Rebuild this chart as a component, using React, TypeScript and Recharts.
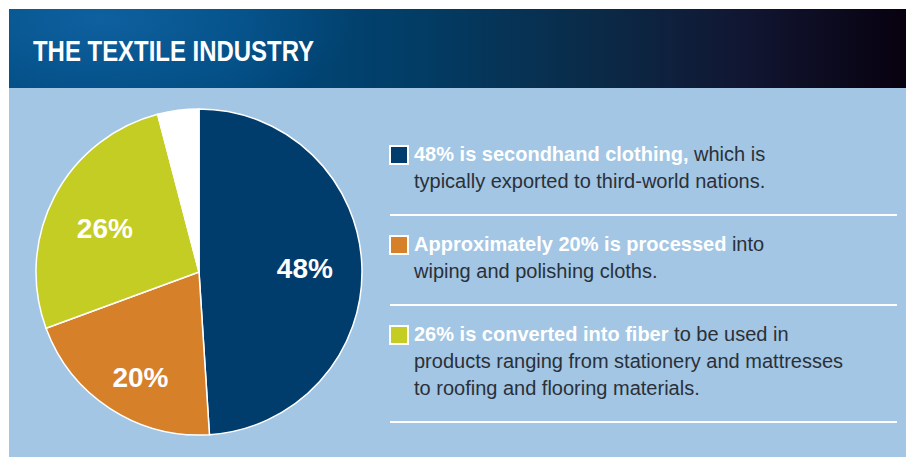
import { Cell, Legend, Pie, PieChart } from "recharts";

const sliceNames = ["Secondhand clothing", "Wiping and polishing cloths", "Fiber", "Other"];
const sliceValues = [48, 20, 26, 4];
const sliceLabels = ["48%", "20%", "26%", ""];
const legendLead = [
  "48% is secondhand clothing,",
  "Approximately 20% is processed",
  "26% is converted into fiber",
];
const legendTail = [" which is", " into", " to be used in"];
const legendLines = [
  ["typically exported to third-world nations."],
  ["wiping and polishing cloths."],
  ["products ranging from stationery and mattresses", "to roofing and flooring materials."],
];

const SLICE_COLORS = ["#003c6c", "#d6802a", "#c4cd23", "#ffffff"];
const FONT = '"Liberation Sans", Arial, sans-serif';

const data = sliceNames.map((name, i) => ({ name, value: sliceValues[i] }));

const RAD = Math.PI / 180;
// label placement tweaks (fraction of radius, extra turn in degrees)
const LABEL_RADIUS = [0.65, 0.74, 0.635, 0];
const LABEL_TURN = [0, 4, 3, 0];

function renderSliceLabel(props: any) {
  const { cx, cy, midAngle, outerRadius, index } = props;
  const text = sliceLabels[index];
  if (!text) return null;
  const a = (midAngle + LABEL_TURN[index]) * RAD;
  const r = outerRadius * LABEL_RADIUS[index];
  return (
    <text
      x={cx + r * Math.cos(a)}
      y={cy - r * Math.sin(a)}
      fill="#fff"
      textAnchor="middle"
      dominantBaseline="central"
      fontFamily={FONT}
      fontWeight={700}
      fontSize={28}
    >
      {text}
    </text>
  );
}

function LegendList() {
  return (
    <div
      style={{
        fontFamily: FONT,
        fontSize: 20,
        lineHeight: "27px",
        color: "#2b3038",
        textAlign: "left",
      }}
    >
      {legendLead.map((lead, i) => (
        <div
          key={i}
          style={{
            position: "relative",
            padding: "15px 0 19px 24px",
            borderBottom: "2px solid #fff",
          }}
        >
          <span
            style={{
              position: "absolute",
              left: -1,
              top: 19.5,
              width: 16,
              height: 16,
              border: "2px solid #fff",
              background: SLICE_COLORS[i],
            }}
          />
          <div style={{ whiteSpace: "pre" }}>
            <b style={{ color: "#fff", fontWeight: 700 }}>{lead}</b>
            <span>{legendTail[i]}</span>
          </div>
          {legendLines[i].map((line) => (
            <div key={line} style={{ whiteSpace: "pre" }}>
              {line}
            </div>
          ))}
        </div>
      ))}
    </div>
  );
}

export default function App() {
  return (
    <div style={{ position: "relative", width: 906, height: 457, background: "#fff", overflow: "hidden" }}>
      <style>{`body{margin:0}`}</style>
      <div
        style={{
          position: "absolute",
          left: 9,
          top: 9,
          width: 897,
          height: 79,
          background:
            "radial-gradient(ellipse 260px 110px at 90px 10px, rgba(25,115,185,0.55), rgba(25,115,185,0) 100%), linear-gradient(90deg, #004a80 0%, #00497d 25%, #023d66 45%, #0a2b48 65%, #111632 82%, #08010f 100%)",
        }}
      >
        <svg width={897} height={79} style={{ display: "block" }}>
          <text
            x={24}
            y={52}
            fill="#fff"
            fontFamily={FONT}
            fontWeight={700}
            fontSize={30}
            textLength={281}
            lengthAdjust="spacingAndGlyphs"
          >
            THE TEXTILE INDUSTRY
          </text>
        </svg>
      </div>
      <div
        style={{
          position: "absolute",
          left: 9,
          top: 88,
          width: 897,
          height: 369,
          background: "#a2c6e4",
        }}
      />
      <div style={{ position: "absolute", left: 0, top: 0 }}>
        <PieChart width={906} height={457} margin={{ top: 0, right: 0, bottom: 0, left: 0 }}>
          <Pie
            data={data}
            dataKey="value"
            nameKey="name"
            cx={199}
            cy={272}
            outerRadius={163}
            startAngle={90}
            endAngle={-270}
            stroke="#fff"
            strokeWidth={1.5}
            labelLine={false}
            label={renderSliceLabel}
            isAnimationActive={false}
          >
            {data.map((d, i) => (
              <Cell key={d.name} fill={SLICE_COLORS[i]} />
            ))}
          </Pie>
          <Legend
            content={() => <LegendList />}
            wrapperStyle={{ left: 390, top: 125.5, width: 507, bottom: "auto" }}
          />
        </PieChart>
      </div>
    </div>
  );
}
